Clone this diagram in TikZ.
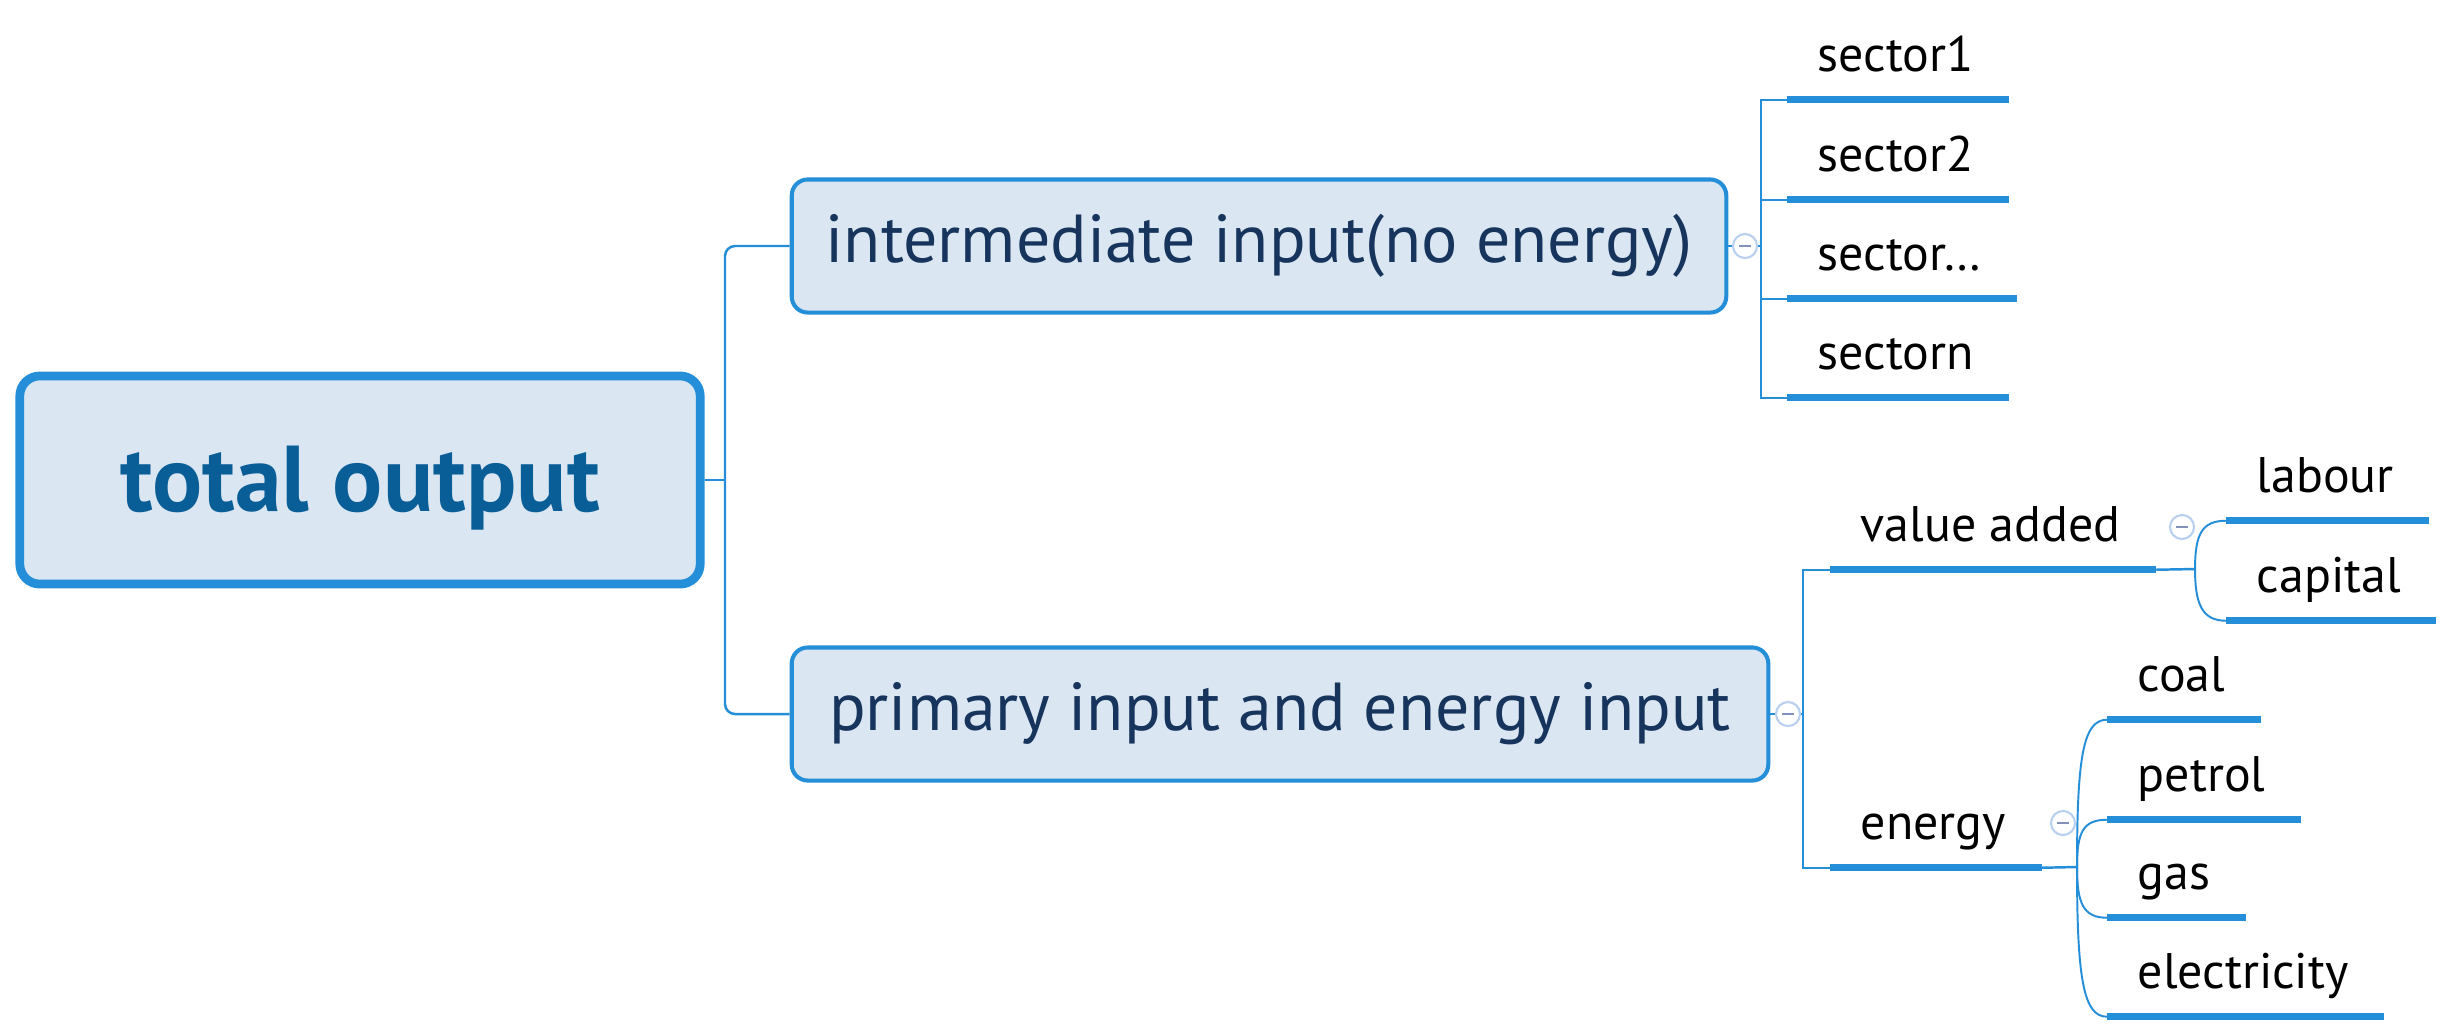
\documentclass[tikz,border=0pt]{standalone}
\usepackage{fontspec}
\setmainfont{PT Sans}
\definecolor{lineblue}{RGB}{36,142,216}
\definecolor{boxfill}{RGB}{218,230,241}
\definecolor{roottext}{RGB}{10,94,152}
\definecolor{boxtext}{RGB}{22,52,92}
\definecolor{circline}{RGB}{185,208,240}
\definecolor{minuscol}{RGB}{130,145,185}
\begin{document}
\begin{tikzpicture}[x=0.01cm,y=-0.01cm,
 rootbox/.style={draw=lineblue, line width=2.5pt, fill=boxfill, rounded corners=0.2cm, minimum width=6.8cm, minimum height=2.08cm, inner sep=0pt, text height=0.62cm, text depth=0cm, text=roottext, font=\fontsize{26.6}{31}\selectfont\bfseries},
 mainbox/.style={draw=lineblue, line width=1.15pt, fill=boxfill, rounded corners=0.16cm, minimum height=1.33cm, inner sep=0pt, text=boxtext, font=\fontsize{19.3}{23}\selectfont},
 leaf/.style={anchor=base west, inner xsep=0.3cm, inner ysep=0pt, text height=0.4cm, text depth=0.28cm, font=\fontsize{14.2}{17}\selectfont, text=black},
 conn/.style={draw=lineblue, line width=0.7pt},
 curv/.style={draw=lineblue, line width=0.55pt},
 uline/.style={draw=lineblue, line width=2pt},
 collapse/.style={circle, draw=circline, fill=white, line width=0.6pt, minimum size=0.24cm, inner sep=0pt,
   path picture={\draw[minuscol, line width=0.6pt] ([xshift=-0.06cm]path picture bounding box.center) -- ([xshift=0.06cm]path picture bounding box.center);}}
]
\fill[white] (0,0) rectangle (2446,1035);
\useasboundingbox (0,0) rectangle (2446,1035);

% main nodes
\node[rootbox] (root) at (360,480) {total output};
\node[mainbox, minimum width=9.34cm] (b1) at (1259,246) {intermediate input(no energy)};
\node[mainbox, minimum width=9.76cm] (b2) at (1280,714) {primary input and energy input};

% leaves
\node[leaf] (s1) at (1787,71) {sector1};
\node[leaf] (s2) at (1787,171) {sector2};
\node[leaf] (s3) at (1787,270) {sector…};
\node[leaf] (s4) at (1787,369) {sectorn};
\node[leaf] (va) at (1830,541) {value added};
\node[leaf] (en) at (1830,839) {energy};
\node[leaf] (lab) at (2226,492) {labour};
\node[leaf] (cap) at (2226,592) {capital};
\node[leaf] (coal) at (2107,691) {coal};
\node[leaf] (pet) at (2107,791) {petrol};
\node[leaf] (gas) at (2107,889) {gas};
\node[leaf] (ele) at (2107,988) {electricity};

% junctions
\coordinate (trunk) at (725,480);
\coordinate (sbar) at (1761,246);
\coordinate (pbar) at (1803,714);
\coordinate (vf) at (2195,569);
\coordinate (ef) at (2077,867);

% connectors
\draw[conn] (root.east) -- (trunk);
\draw[conn, rounded corners=0.1cm] (b1.west) -| (trunk) |- (b2.west);

\draw[conn] (b1.east) -- (sbar);
\draw[conn] (s1.south west) -| (sbar) |- (s4.south west);
\draw[conn] (s2.south west) -- (s2.south west -| sbar);
\draw[conn] (s3.south west) -- (s3.south west -| sbar);

\draw[conn] (b2.east) -- (pbar);
\draw[conn] (va.south west) -| (pbar) |- (en.south west);

\draw[conn] ([xshift=0.05cm]va.south east) -- (vf);
\draw[conn] ([xshift=0.05cm]en.south east) -- (ef);

\draw[curv] (vf) .. controls +(0,-35) and +(-24,0) .. (lab.south west);
\draw[curv] (vf) .. controls +(0,35) and +(-24,0) .. (cap.south west);
\draw[curv] (ef) .. controls +(0,-110) and +(-24,0) .. (coal.south west);
\draw[curv] (ef) .. controls +(0,-35) and +(-24,0) .. (pet.south west);
\draw[curv] (ef) .. controls +(0,36) and +(-24,0) .. (gas.south west);
\draw[curv] (ef) .. controls +(0,110) and +(-24,0) .. (ele.south west);

% underlines
\foreach \n in {s1,s2,s3,s4,va,en,lab,cap,coal,pet,gas,ele}
  \draw[uline] (\n.south west) -- ([xshift=0.05cm]\n.south east);

% collapse markers
\node[collapse] (c1) at (1745,246) {};
\node[collapse] (c2) at (1788,714) {};
\node[collapse] (c3) at (2182,527) {};
\node[collapse] (c4) at (2063,823) {};
\end{tikzpicture}
\end{document}
